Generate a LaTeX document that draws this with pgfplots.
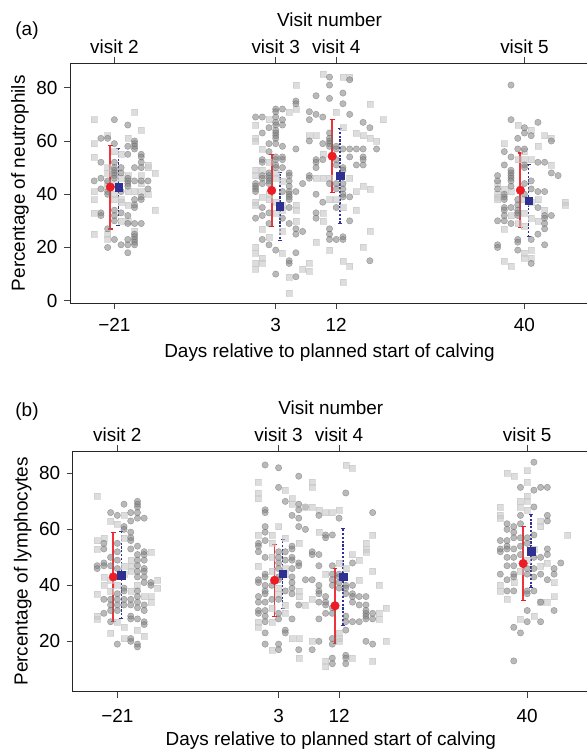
\documentclass[border=0pt]{standalone}
\usepackage{pgfplots}
\pgfplotsset{compat=1.18}
\usepackage{fontspec}
\setmainfont{Liberation Sans}
\definecolor{meanred}{RGB}{236,28,36}
\definecolor{meanblue}{RGB}{46,49,146}

\pgfplotsset{
  circ/.style={only marks, mark=*, mark size=3.2bp,
    mark options={fill=black!50, draw=black!62, opacity=0.55}},
  sq/.style={only marks, mark=square*, mark size=3bp,
    mark options={fill=black!22, draw=black!22, opacity=0.6}},
  redmean/.style={only marks, mark=*, mark size=4.3bp, color=meanred,
    error bars/.cd, y dir=both, y explicit,
    error bar style={line width=1.9bp, meanred!90},
    error mark options={rotate=90, mark size=2.4bp, line width=1.2bp, meanred}},
  bluemean/.style={only marks, mark=square*, mark size=3.7bp, color=meanblue,
    error bars/.cd, y dir=both, y explicit,
    error bar style={line width=1.6bp, meanblue, dash pattern=on 2.2bp off 1.6bp},
    error mark options={rotate=90, mark size=2bp, line width=1bp, meanblue, solid}},
  mainax/.style={
    scale only axis, anchor=south west,
    xtick={-21,3,12,40}, xticklabels={−21,3,12,40},
    xtick pos=left, ytick pos=left, tick align=outside,
    major tick length=6bp,
    tick style={black!75, line width=0.7bp},
    axis line style={line width=0.9bp, black!85},
    /pgf/number format/assume math mode=true,
    every axis x label/.style={at={(axis description cs:0.5,0)}, yshift=-49bp, anchor=center},
    every axis y label/.style={at={(axis description cs:0,0.5)}, xshift=-50bp, rotate=90, anchor=center},
    clip=false,
  },
  topax/.style={
    scale only axis, anchor=south west,
    axis x line*=top, axis y line=none,
    xtick={-21,3,12,40},
    xticklabels={visit 2,visit 3,visit 4,visit 5},
    xticklabel style={yshift=-3.5bp},
    tick align=outside, major tick length=6bp,
    tick style={black!75, line width=0.7bp},
    axis line style={line width=0.9bp, black!85},
    every axis x label/.style={at={(axis description cs:0.5,1)}, yshift=43bp, anchor=center},
  },
}

\begin{document}
\fontsize{19}{22}\selectfont
\begin{tikzpicture}
\useasboundingbox (0,0) rectangle (587bp,749bp);

% ---------------- panel (a): neutrophils
\begin{axis}[mainax, at={(70bp,445.5bp)}, width=519bp, height=240.5bp,
  xmin=-27.6, xmax=49.6, ymin=-1.05, ymax=89.3, ytick={0,20,...,80},
  xticklabel style={yshift=-2.5bp},
  xlabel={Days relative to planned start of calving},
  ylabel={Percentage of neutrophils}]
% visit 2
\addplot[sq] coordinates {(-24,68) (-18,71) (-17,64) (-22,62) (-24,59) (-19,61) (-24,54) (-16,51) (-16,50) (-15,48)
 (-22,50) (-22,48) (-20,46) (-19,47) (-24,41) (-24,38) (-19,41) (-18,41) (-17,41) (-16,40) (-22,44) (-22,43)
 (-20,38) (-20,37) (-19,36) (-24,33) (-15,34) (-19,30) (-20,30) (-21,40) (-21,38) (-24,25) (-22,25) (-22,23)
 (-18,26) (-21,44) (-17,44) (-17,47) (-20,55) (-21,56)};
\addplot[circ] coordinates {(-21,68) (-19,66) (-23,61) (-22,61) (-21,59) (-18,60) (-18,59) (-18,58) (-18,57) (-19,58)
 (-19,55) (-17,55) (-17,54) (-17,52) (-17,50) (-23,52) (-21,52) (-21,50) (-21,49) (-21,48) (-21,47) (-21,46)
 (-20,50) (-20,48) (-18,50) (-24,45) (-23,46) (-22,45) (-19,46) (-19,45) (-19,44) (-19,43) (-18,45) (-16,45)
 (-17,45) (-23,42) (-22,41) (-22,40) (-20,41) (-16,42) (-17,39) (-17,38) (-18,38) (-18,36) (-18,35) (-23,33)
 (-23,32) (-21,34) (-21,32) (-21,30) (-20,33) (-19,32) (-19,29) (-18,29) (-17,29) (-22,27) (-21,23) (-20,21)
 (-19,23) (-19,21) (-19,18) (-18,25) (-18,24) (-18,23) (-18,22) (-18,21) (-22,20)};
% visit 3
\addplot[sq] coordinates {(6,81) (6,72) (5,71) (2,68) (0,66) (0,61) (0,60) (1,57) (2,52) (0,49) (0,47) (1,49) (3,48)
 (3,46) (4,45) (2,40) (1,39) (0,37) (0,36) (3,33) (3,37) (4,36) (4,34) (6,36) (6,34) (2,38) (0,20) (0,18) (0,14)
 (0,12) (1,16) (1,14) (7,12) (5,9) (5,3) (2,24) (4,26) (1,27) (6,30) (4,18) (8,14)};
\addplot[circ] coordinates {(6,75) (6,74) (3,72) (3,71) (3,69) (3,67) (3,66) (3,64) (3,63) (3,62) (3,61) (3,59) (4,72)
 (4,68) (4,66) (0,69) (1,69) (2,65) (1,63) (2,59) (4,58) (2,56) (6,57) (1,53) (1,52) (3,54) (3,53) (3,51) (3,50)
 (4,54) (4,53) (4,50) (0,44) (0,43) (0,42) (0,41) (1,47) (1,46) (1,44) (2,48) (2,47) (2,46) (2,45) (2,44) (5,48)
 (5,47) (5,45) (5,43) (5,41) (5,40) (5,39) (5,38) (7,44) (6,41) (4,41) (1,35) (1,32) (0,31) (2,33) (2,29) (5,35)
 (5,29) (4,31) (6,27) (6,25) (7,26) (1,23) (2,21) (3,19) (5,15) (5,14) (6,18) (3,10) (6,9)};
% visit 4
\addplot[sq] coordinates {(10,85) (13,84) (14,84) (12,71) (19,68) (17,74) (8,62) (9,62) (10,55) (13,65) (15,63) (16,62)
 (17,61) (18,60) (10,46) (11,46) (9,46) (14,46) (16,43) (15,41) (17,42) (12,38) (11,38) (10,33) (10,30) (13,35)
 (17,26) (16,20) (13,15) (14,13) (13,7) (8,11) (11,19) (15,34) (9,22)};
\addplot[circ] coordinates {(11,84) (14,83) (11,81) (13,78) (9,77) (11,76) (13,74) (14,70) (8,71) (10,69) (9,70) (8,68)
 (16,67) (17,65) (8,60) (11,63) (11,61) (11,60) (11,59) (11,58) (10,59) (12,58) (12,57) (10,53) (9,53) (9,52)
 (9,50) (13,57) (14,57) (15,57) (16,57) (18,57) (14,54) (16,54) (16,53) (16,51) (15,51) (13,50) (13,49) (12,53)
 (12,51) (8,47) (8,46) (11,44) (12,44) (12,42) (13,44) (13,42) (13,40) (13,39) (14,39) (11,27) (11,25) (11,23)
 (12,23) (13,24) (13,23) (9,33) (9,31) (17,15) (10,37) (9,40) (12,35) (14,30)};
% visit 5
\addplot[sq] coordinates {(39,66) (41,64) (43,62) (44,61) (37,59) (40,56) (42,58) (39,53) (40,53) (41,53) (44,51) (36,44)
 (37,42) (38,41) (36,40) (36,39) (40,38) (41,37) (42,38) (46,37) (46,36) (40,33) (41,31) (42,30) (43,34) (38,32)
 (37,27) (40,18) (40,16) (41,19) (41,16) (37,15) (38,13) (36,38) (39,29) (40,28)};
\addplot[circ] coordinates {(38,81) (38,68) (42,67) (40,65) (40,63) (41,62) (39,61) (44,60) (39,57) (40,57) (37,56) (38,54)
 (37,51) (42,52) (43,52) (40,51) (40,50) (38,49) (38,48) (38,47) (38,46) (38,45) (38,43) (36,47) (36,45) (36,42)
 (44,48) (45,47) (42,41) (43,41) (37,40) (37,39) (37,38) (37,35) (37,34) (37,32) (37,30) (38,35) (39,38) (39,36)
 (39,34) (39,33) (39,32) (42,35) (44,32) (43,32) (43,31) (43,29) (43,27) (36,30) (38,29) (42,25) (41,23) (39,23)
 (39,22) (43,21) (36,21) (36,20) (39,19) (41,14) (40,44) (40,40) (41,45) (41,42)};
% means +- SD
\addplot[redmean] coordinates {(-21.6,42.7) +- (0,15.75) (2.4,41.4) +- (0,13.65) (11.4,54.3) +- (0,13.65) (39.4,41.5) +- (0,14)};
\addplot[bluemean] coordinates {(-20.4,42.6) +- (0,14.45) (3.6,35.5) +- (0,12.8) (12.6,46.9) +- (0,17.8) (40.6,37.6) +- (0,13.5)};
\end{axis}
\begin{axis}[topax, at={(70bp,445.5bp)}, width=519bp, height=240.5bp,
  xmin=-27.6, xmax=49.6, ymin=0, ymax=1, xlabel={Visit number}]
\end{axis}
\node at (27bp,718bp) {(a)};

% ---------------- panel (b): lymphocytes
\begin{axis}[mainax, at={(72.7bp,57.3bp)}, width=516.3bp, height=240.7bp,
  xmin=-27.64, xmax=49.2, ymin=2, ymax=88, ytick={20,40,...,80},
  xticklabel style={yshift=-5.5bp},
  xlabel={Days relative to planned start of calving},
  ylabel={Percentage of lymphocytes}]
% visit 2
\addplot[sq] coordinates {(-24,72) (-20,65) (-21,62) (-22,63) (-23,57) (-24,56) (-24,53) (-16,52) (-15,42) (-15,39)
 (-24,37) (-24,29) (-24,28) (-16,34) (-22,23) (-20,21) (-20,57) (-19,49) (-19,47) (-19,45) (-22,42) (-21,40)
 (-20,44) (-20,47) (-23,43) (-23,40) (-18,40) (-17,36) (-16,36) (-19,38) (-22,38) (-21,27) (-20,25) (-18,24) (-17,22)};
\addplot[circ] coordinates {(-20,69) (-18,70) (-18,69) (-18,68) (-18,66) (-18,64) (-19,66) (-22,66) (-21,65) (-17,64)
 (-19,63) (-20,61) (-20,60) (-23,55) (-23,53) (-23,48) (-23,47) (-24,47) (-24,46) (-22,50) (-22,47) (-21,55)
 (-21,52) (-21,49) (-21,46) (-19,59) (-19,57) (-19,56) (-19,53) (-18,54) (-18,51) (-18,49) (-18,47) (-18,45)
 (-18,43) (-17,52) (-17,51) (-17,49) (-17,46) (-17,45) (-17,43) (-17,41) (-16,41) (-16,40) (-23,35) (-23,30)
 (-22,35) (-22,33) (-22,31) (-21,37) (-21,35) (-21,33) (-21,31) (-20,39) (-20,38) (-20,35) (-20,33) (-19,35)
 (-19,33) (-19,29) (-19,28) (-18,38) (-18,36) (-18,34) (-18,32) (-18,28) (-17,33) (-17,31) (-17,27) (-17,26)
 (-22,27) (-19,21) (-19,20) (-21,19) (-18,19) (-18,18)};
% visit 3
\addplot[sq] coordinates {(0,77) (0,73) (0,71) (4,74) (5,71) (5,69) (3,61) (2,58) (2,55) (0,47) (2,50) (4,46) (4,44)
 (2,45) (3,39) (3,37) (4,33) (4,30) (2,32) (0,25) (0,27) (6,36) (6,38) (7,33) (2,17) (6,14) (5,21) (6,21) (2,27)
 (4,57) (6,55) (0,58)};
\addplot[circ] coordinates {(1,83) (3,82) (3,75) (6,79) (4,70) (6,69) (6,67) (7,68) (1,67) (1,66) (5,65) (6,64) (6,61)
 (7,60) (1,61) (1,59) (1,56) (0,55) (0,54) (0,52) (1,50) (3,52) (3,50) (3,48) (3,46) (5,54) (5,53) (5,50) (4,52)
 (4,49) (6,48) (6,47) (0,42) (0,41) (1,44) (1,43) (1,40) (1,38) (1,37) (3,43) (3,42) (5,49) (5,46) (5,43) (5,41)
 (5,39) (5,37) (7,42) (8,42) (0,36) (0,34) (0,31) (0,30) (1,34) (1,31) (1,29) (1,27) (3,35) (3,30) (3,28) (5,28)
 (4,24) (4,23) (1,23) (1,19) (3,19) (3,17) (6,17) (8,17) (2,35) (2,40) (4,38) (6,33)};
% visit 4
\addplot[sq] coordinates {(13,83) (14,82) (8,77) (8,75) (7,68) (8,68) (9,67) (10,66) (11,66) (12,67) (9,59) (17,58)
 (14,51) (15,49) (16,55) (16,53) (16,52) (19,32) (18,30) (18,28) (12,23) (12,21) (12,20) (10,13) (10,11) (14,14)
 (17,13) (8,20) (10,44) (12,48) (13,46) (15,42) (17,45) (18,40) (8,35) (19,20)};
\addplot[circ] coordinates {(13,73) (9,65) (12,64) (17,66) (11,58) (10,58) (10,57) (8,52) (8,51) (9,47) (9,51) (11,47)
 (11,44) (11,42) (11,40) (12,44) (12,43) (12,41) (12,39) (13,40) (13,39) (13,37) (14,40) (14,37) (14,36) (14,34)
 (15,36) (15,33) (16,36) (16,33) (16,31) (16,30) (16,29) (16,28) (17,30) (17,28) (9,40) (9,38) (9,37) (9,34)
 (10,36) (10,34) (10,33) (10,30) (11,32) (11,30) (9,28) (13,29) (13,27) (13,24) (14,27) (15,27) (9,20) (16,20)
 (17,19) (11,21) (11,19) (11,14) (11,12) (13,15) (13,14) (13,12) (14,48)};
% visit 5
\addplot[sq] coordinates {(37,80) (38,79) (40,81) (40,77) (39,70) (39,68) (40,72) (40,70) (40,67) (36,68) (36,65)
 (36,64) (42,63) (42,61) (46,58) (36,40) (36,38) (44,36) (42,34) (43,34) (41,29) (39,28) (43,48) (42,47) (41,53)
 (39,45) (40,49) (38,41) (44,41) (37,35)};
\addplot[circ] coordinates {(41,84) (39,75) (41,74) (43,75) (42,75) (41,68) (43,65) (43,63) (39,65) (39,62) (37,60)
 (37,62) (38,61) (38,59) (38,57) (36,56) (36,53) (36,52) (37,56) (37,54) (37,53) (37,50) (37,47) (38,53) (38,50)
 (38,47) (38,44) (38,43) (39,57) (39,54) (39,51) (40,57) (40,55) (40,46) (40,44) (40,38) (40,37) (41,58) (41,50)
 (41,46) (41,43) (42,50) (42,44) (43,53) (43,51) (43,42) (44,46) (44,44) (45,48) (36,44) (37,42) (37,38) (38,38)
 (41,38) (44,31) (42,34) (40,31) (40,27) (42,27) (38,25) (39,23) (38,13)};
% means +- SD
\addplot[redmean] coordinates {(-21.6,43.0) +- (0,16) (2.4,41.8) +- (0,12.85) (11.4,32.7) +- (0,13.4) (39.4,47.8) +- (0,13.1)};
\addplot[bluemean] coordinates {(-20.4,43.6) +- (0,15.5) (3.6,44.1) +- (0,12.45) (12.6,43.0) +- (0,17.2) (40.6,52.2) +- (0,12.95)};
\end{axis}
\begin{axis}[topax, at={(72.7bp,57.3bp)}, width=516.3bp, height=240.7bp,
  xmin=-27.64, xmax=49.2, ymin=0, ymax=1, xlabel={Visit number}]
\end{axis}
\node at (27bp,337bp) {(b)};
\end{tikzpicture}
\end{document}
